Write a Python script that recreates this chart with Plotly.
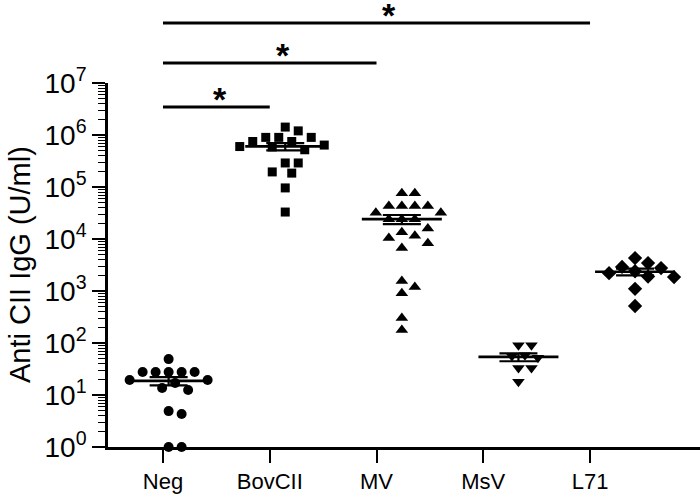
import numpy as np
import plotly.graph_objects as go

# ---------------- data ----------------
categories = ["Neg", "BovCII", "MV", "MsV", "L71"]
neg = [49, 27.6, 27.6, 27.6, 27.6, 27.6, 19.5, 19.5, 17, 13.6, 12.5, 4.9, 4.3, 1, 1]
bovcii = [1.42e6, 1.2e6, 9e5, 9e5, 9e5, 7.5e5, 7.5e5, 6.4e5, 6e5, 5.9e5, 5.2e5,
          2.9e5, 2.9e5, 1.95e5, 1.85e5, 9.6e4, 3.3e4]
mv = [7.6e4, 7.6e4, 4.3e4, 4.3e4, 4.3e4, 4.3e4, 3.2e4, 3.2e4, 2.4e4, 2.4e4, 2.4e4,
      1.6e4, 1.35e4, 1.15e4, 1.05e4, 8.3e3, 6.7e3, 1.55e3, 1.2e3, 910, 302, 178]
msv = [91, 91, 58, 56, 52, 33, 33, 18]
l71 = [4.3e3, 3.45e3, 2.9e3, 2.76e3, 2.4e3, 2.2e3, 1.9e3, 1.85e3, 1.1e3, 515]
groups = [neg, bovcii, mv, msv, l71]
symbols = ["circle", "square", "triangle-up", "triangle-down", "diamond"]
marker_sizes = [10, 9, 11, 11, 11]
ytick_vals = [1, 10, 100, 1e3, 1e4, 1e5, 1e6, 1e7]
ytick_text = ["10<sup>%d</sup>" % i for i in range(8)]
comparisons = [("Neg", "BovCII"), ("Neg", "MV"), ("Neg", "L71")]

# ---------------- layout geometry ----------------
W, H = 700, 497
ML, MR, MT, MB = 108, 0, 83, 50
PW, PH = W - ML - MR, H - MT - MB
PX_PER_DEC = PH / 7.0
TICK_RANGE = [-0.515, 5.03]
DATA_RANGE = [-0.52, 4.557]
PX_PER_UNIT = PW / (DATA_RANGE[1] - DATA_RANGE[0])
FONT = "Liberation Sans, Arial, sans-serif"
MEAN_LINE_PX = 80


def swarm(vals, step=13.0, dmin=11.5):
    ys = np.log10(np.asarray(vals, float)) * PX_PER_DEC
    order = np.argsort(-ys, kind="stable")
    cands = [0.0]
    for k in range(1, 30):
        cands += [k * step / 2, -k * step / 2]
    placed = []
    offs = np.zeros(len(ys))
    for i in order:
        for c in cands:
            if all((c - px) ** 2 + (ys[i] - py) ** 2 >= dmin ** 2 for px, py in placed):
                break
        offs[i] = c
        placed.append((c, ys[i]))
    return offs / PX_PER_UNIT


fig = go.Figure()
for gi, vals in enumerate(groups):
    offs = swarm(vals)
    fig.add_trace(go.Scatter(
        x=gi + offs, y=vals, mode="markers", xaxis="x2", yaxis="y",
        marker=dict(symbol=symbols[gi], size=marker_sizes[gi], color="black", line=dict(width=0)),
        cliponaxis=False, showlegend=False, hoverinfo="y"))

for gi, vals in enumerate(groups):
    arr = np.asarray(vals, float)
    m = arr.mean()
    sem = arr.std(ddof=1) / np.sqrt(len(arr))
    fig.add_trace(go.Scatter(
        x=[gi], y=[m], mode="markers", xaxis="x2", yaxis="y",
        marker=dict(symbol="line-ew", size=MEAN_LINE_PX / 1.4, color="black",
                    line=dict(width=2.6, color="black")),
        error_y=dict(type="data", array=[sem], symmetric=True, thickness=2.2, width=19, color="black"),
        cliponaxis=False, showlegend=False, hoverinfo="y"))

# significance brackets
bracket_px = [107, 63, 23]
star_x = [0.534, 1.125, 2.118]
for (a, b), ypx, sx in zip(comparisons, bracket_px, star_x):
    yp = (H - MB - ypx) / PH
    fig.add_shape(type="line", xref="x", yref="paper",
                  x0=categories.index(a), x1=categories.index(b), y0=yp, y1=yp,
                  line=dict(color="black", width=2.8))
    fig.add_annotation(x=sx, y=yp, xref="x", yref="paper", text="<b>*</b>", showarrow=False,
                       xanchor="center", yanchor="bottom", yshift=-13,
                       font=dict(family=FONT, size=34, color="black"))

fig.add_annotation(x=(20 - ML) / PW, y=0.5, xref="paper", yref="paper",
                   text="Anti CII IgG (U/ml)", textangle=-90, showarrow=False,
                   xanchor="center", yanchor="middle",
                   font=dict(family=FONT, size=29, color="black"))

minor_vals = [k * 10 ** d for d in range(7) for k in range(2, 10)]

fig.update_layout(
    width=W, height=H, margin=dict(l=ML, r=MR, t=MT, b=MB),
    paper_bgcolor="white", plot_bgcolor="white",
    font=dict(family=FONT, color="black"),
    xaxis=dict(range=TICK_RANGE, tickmode="array", tickvals=list(range(len(categories))),
               ticktext=categories, ticks="outside", ticklen=13, tickwidth=2.2, tickcolor="black",
               showline=True, linewidth=2.6, linecolor="black", showgrid=False, zeroline=False,
               tickfont=dict(family=FONT, size=22, color="black")),
    xaxis2=dict(range=DATA_RANGE, overlaying="x", visible=False, showgrid=False, zeroline=False),
    yaxis=dict(type="log", range=[0, 7], tickmode="array", tickvals=ytick_vals, ticktext=ytick_text,
               ticks="outside", ticklen=13, tickwidth=2.2, tickcolor="black",
               showline=True, linewidth=2.6, linecolor="black", showgrid=False, zeroline=False,
               tickfont=dict(family=FONT, size=28, color="black"),
               minor=dict(tickmode="array", tickvals=minor_vals, ticks="outside", ticklen=7,
                          tickwidth=1.4, tickcolor="black", showgrid=False)),
)

fig.write_html("out.html", config={"displayModeBar": False},
               post_script="document.body.style.margin='0px';")
